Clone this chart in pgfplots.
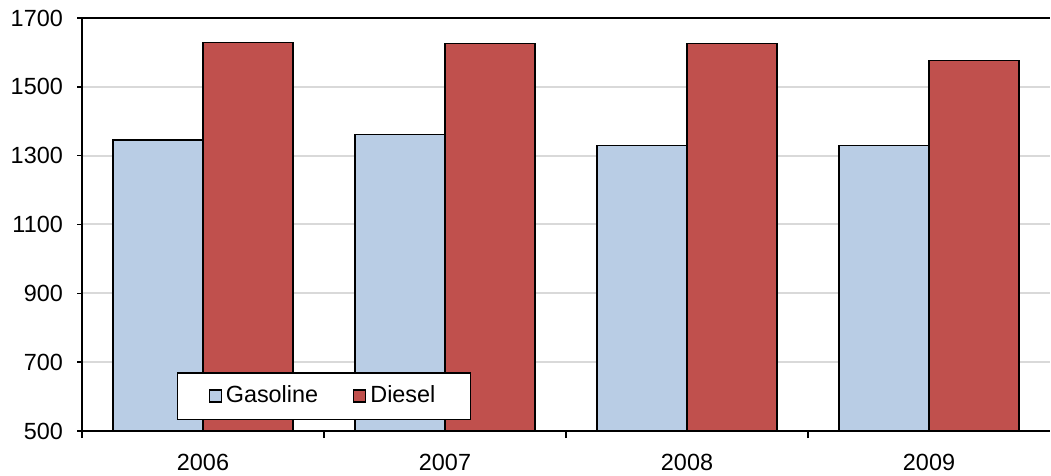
\documentclass[border=0pt]{standalone}
\usepackage{pgfplots}
\pgfplotsset{compat=1.18}
\usepackage{fontspec}
\setmainfont{Liberation Sans}
\definecolor{gasoline}{HTML}{B9CDE5}
\definecolor{diesel}{HTML}{C0504D}
\definecolor{gridgray}{HTML}{D9D9D9}

\begin{document}
\fontsize{11.7}{14}\selectfont
\begin{tikzpicture}
\begin{axis}[
  name=main,
  scale only axis,
  width=484pt, height=206.5pt,
  ybar=0pt, bar width=45pt,
  xmin=-0.5, xmax=3.5,
  ymin=500, ymax=1700,
  ytick={500,700,...,1700},
  xtick={0,1,2,3},
  xticklabels={2006,2007,2008,2009},
  major x tick style={draw=none},
  minor xtick={-0.5,0.5,1.5,2.5},
  minor x tick style={draw=black, line width=0.75pt},
  minor tick length=3.5pt,
  axis x line*=bottom, axis y line*=left,
  tick align=outside,
  major tick length=2.5pt,
  every tick/.style={black, line width=0.75pt},
  axis line style={black, line width=1pt},
  ymajorgrids, grid style={gridgray, line width=1pt},
  /pgf/number format/assume math mode=true,
  /pgf/number format/1000 sep={},
  tick label style={font=\fontsize{11.7}{14}\selectfont},
  xticklabel style={yshift=-5pt},
  yticklabel style={xshift=-3pt},
  legend style={at={(rel axis cs:0.098,0.0266)}, anchor=south west,
    draw=black, line width=0.75pt, legend columns=2,
    font=\fontsize{11.7}{14}\selectfont,
    inner xsep=15.5pt, inner ysep=4.5pt,
    /tikz/every even column/.append style={column sep=15.5pt}},
  legend image code/.code={\draw[#1, line width=0.6pt] (0pt,-3pt) rectangle (6pt,3pt);},
  every axis plot/.append style={draw=black, line width=0.75pt},
]
\addplot[fill=gasoline] coordinates {(0,1345) (1,1362) (2,1330) (3,1330)};
\addplot[fill=diesel] coordinates {(0,1629) (1,1626) (2,1626) (3,1576)};
\legend{Gasoline,Diesel}
\draw[black, line width=1pt] (rel axis cs:0,1) -- (rel axis cs:1,1);
\end{axis}
\pgfresetboundingbox
\path[use as bounding box] ([shift={(-41pt,-22pt)}]main.south west) rectangle ([shift={(0.5pt,9pt)}]main.north east);
\end{tikzpicture}
\end{document}
